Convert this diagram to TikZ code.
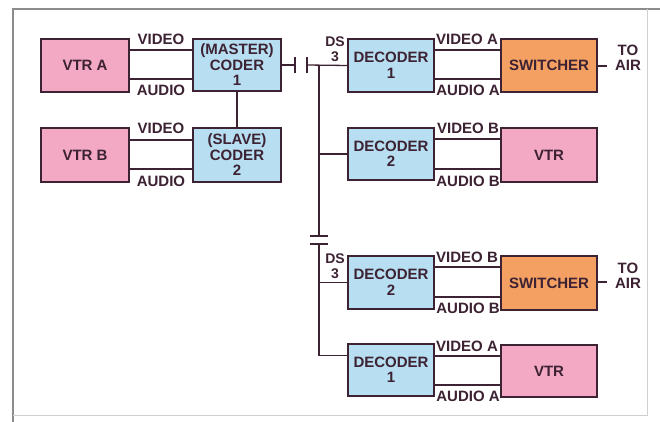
\documentclass[tikz,border=0pt]{standalone}
\usepackage{fontspec}
\setmainfont{Liberation Sans}
\begin{document}
\begin{tikzpicture}[x=1pt,y=-1pt,
  ink/.style={draw=inkc,line width=1.3pt},
  box/.style={draw=inkc,line width=1.6pt,inner sep=0pt,align=center,text=inkc,
     font=\fontsize{15}{15.5}\selectfont\bfseries},
  pinkbox/.style={box,fill=pinkc},
  bluebox/.style={box,fill=bluec},
  orangebox/.style={box,fill=orangec},
  lbl/.style={inner sep=0pt,text=inkc,font=\fontsize{15}{15}\selectfont\bfseries,align=center},
  slbl/.style={inner sep=0pt,text=inkc,font=\fontsize{14}{15}\selectfont\bfseries,align=center}
]
\definecolor{inkc}{HTML}{3C2232}
\definecolor{pinkc}{HTML}{F3A8C3}
\definecolor{bluec}{HTML}{B7DFF1}
\definecolor{orangec}{HTML}{F4A062}
\definecolor{framec}{HTML}{8C8C8C}
\definecolor{framel}{HTML}{D0D0D0}
\useasboundingbox (0,0) rectangle (660,422);
\fill[white] (0,0) rectangle (660,422);
% frame
\draw[framec,line width=1.2pt] (13,422) -- (13,9) -- (660,9);
\draw[framel,line width=1pt] (647,9) -- (647,416);
\draw[framel,line width=0.8pt] (13,415) -- (647,415);

% boxes
\node[pinkbox,minimum width=88,minimum height=53] (vtra) at (85,65.5) {VTR A};
\node[bluebox,minimum width=88,minimum height=52] (master) at (237,65) {(MASTER)\\CODER\\1};
\node[pinkbox,minimum width=88,minimum height=54] (vtrb) at (85,155) {VTR B};
\node[bluebox,minimum width=88,minimum height=54] (slave) at (237,155) {(SLAVE)\\CODER\\2};

\node[bluebox,minimum width=86,minimum height=53] (dec1a) at (391,65.5) {DECODER\\1};
\node[bluebox,minimum width=86,minimum height=52] (dec2a) at (391,154) {DECODER\\2};
\node[orangebox,minimum width=96,minimum height=53] (swa) at (549,65.5) {SWITCHER};
\node[pinkbox,minimum width=96,minimum height=54] (vtrc) at (549,155) {VTR};

\node[bluebox,minimum width=86,minimum height=53] (dec2b) at (391,282.5) {DECODER\\2};
\node[orangebox,minimum width=96,minimum height=54] (swb) at (549,283) {SWITCHER};
\node[bluebox,minimum width=86,minimum height=52] (dec1b) at (391,370) {DECODER\\1};
\node[pinkbox,minimum width=96,minimum height=52] (vtrd) at (549,371) {VTR};

% video / audio pairs
\draw[ink] (vtra.east |- 0,50) -- (master.west |- 0,50);
\draw[ink] (vtra.east |- 0,79) -- (master.west |- 0,79);
\draw[ink] (vtrb.east |- 0,140) -- (slave.west |- 0,140);
\draw[ink] (vtrb.east |- 0,169) -- (slave.west |- 0,169);
\draw[ink] (dec1a.east |- 0,50) -- (swa.west |- 0,50);
\draw[ink] (dec1a.east |- 0,79) -- (swa.west |- 0,79);
\draw[ink] (dec2a.east |- 0,139) -- (vtrc.west |- 0,139);
\draw[ink] (dec2a.east |- 0,169) -- (vtrc.west |- 0,169);
\draw[ink] (dec2b.east |- 0,267) -- (swb.west |- 0,267);
\draw[ink] (dec2b.east |- 0,297) -- (swb.west |- 0,297);
\draw[ink] (dec1b.east |- 0,356) -- (vtrd.west |- 0,356);
\draw[ink] (dec1b.east |- 0,385) -- (vtrd.west |- 0,385);

% master-slave link
\draw[ink] (master.south) -- (slave.north);

% DS3 line with capacitors
\coordinate (c1) at (295,65);
\coordinate (c2) at (307,65);
\draw[ink] (master.east) -- (c1);
\draw[ink] (295,57) -- (295,73);
\draw[ink] (307,57) -- (307,73);
\draw[ink] (c2) -- (dec1a.west);
\coordinate (bt) at (319,65);
\coordinate (bc1) at (319,236);
\coordinate (bc2) at (319,244);
\coordinate (bb) at (319,355.5);
\draw[ink] (bt) -- (bc1);
\draw[ink] (310,236) -- (328,236);
\draw[ink] (310,244) -- (328,244);
\draw[ink] (bc2) -- (bb) -- (dec1b.west |- bb);
\draw[ink] (319,154) -- (dec2a.west);
\draw[ink] (319,282.5) -- (dec2b.west);

% to air
\coordinate (ta) at (607,66);
\coordinate (tb) at (607,282);
\draw[ink] (swa.east |- ta) -- (ta);
\draw[ink] (swb.east |- tb) -- (tb);
\node[lbl] (air1) at (628,58) {TO\\AIR};
\node[lbl] (air2) at (628,276) {TO\\AIR};

% labels
\node[lbl,anchor=base] (v1) at (161,45) {VIDEO};
\node[lbl,anchor=base] (a1) at (161,96) {AUDIO};
\node[lbl,anchor=base] (v2) at (161,134) {VIDEO};
\node[lbl,anchor=base] (a2) at (161,186) {AUDIO};
\node[lbl,anchor=base] (v3) at (467,45) {VIDEO A};
\node[lbl,anchor=base] (a3) at (468,96) {AUDIO A};
\node[lbl,anchor=base] (v4) at (468,134) {VIDEO B};
\node[lbl,anchor=base] (a4) at (468,186) {AUDIO B};
\node[lbl,anchor=base] (v5) at (467,262) {VIDEO B};
\node[lbl,anchor=base] (a5) at (468,313) {AUDIO B};
\node[lbl,anchor=base] (v6) at (467,351) {VIDEO A};
\node[lbl,anchor=base] (a6) at (468,401) {AUDIO A};

\node[slbl] (ds1) at (335,49) {DS\\3};
\node[slbl] (ds2) at (335,266) {DS\\3};
\end{tikzpicture}
\end{document}
